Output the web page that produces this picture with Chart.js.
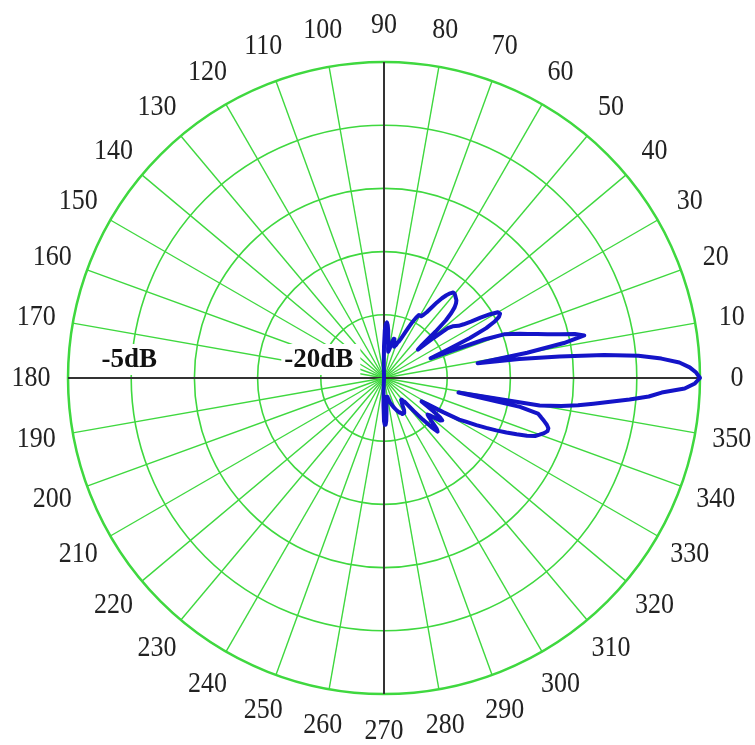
<!DOCTYPE html>
<html>
<head>
<meta charset="utf-8">
<script src="https://cdn.jsdelivr.net/npm/chart.js@4.4.1/dist/chart.umd.min.js"></script>
<style>
  html, body { margin: 0; padding: 0; background: #fff; }
  #wrap { width: 755px; height: 745px; }
</style>
</head>
<body>
<div id="wrap"><canvas id="polar"></canvas></div>
<script>
// antenna gain in dB, one value per degree, angle 0..359 counter-clockwise from the right
const gainDb = [
  0, -0.3, -0.8, -1.6, -3.0, -4.8, -7.5, -11, -14.2, -17.5,
  -13.5, -10.5, -8.8, -9.5, -10.7, -11.6, -12.4, -13.1, -13.7, -14.3,
  -14.9, -16.5, -19.5, -21, -19.5, -17.5, -16, -15.2, -14.7, -14.5,
  -14.6, -15.2, -16, -16.8, -17.4, -17.8, -18, -18.2, -18.6, -20,
  -21.5, -21, -19.5, -18.3, -17.6, -17.1, -16.8, -16.6, -16.5, -16.4,
  -16.3, -16.3, -16.5, -16.8, -17.2, -17.7, -18.3, -18.8, -19.1, -19.3,
  -19.3, -19.3, -19.6, -20, -20.5, -21, -21.4, -21.7, -21.9, -22,
  -22.2, -22.3, -22.4, -22.3, -22.1, -21.8, -21.8, -22, -22.3, -22.6,
  -22.8, -22.9, -22.7, -22.3, -21.8, -21.2, -20.8, -20.6, -20.7, -21.2,
  -22.5, -24, -25, -25, -25, -25, -25, -25, -25, -25,
  -25, -25, -25, -25, -25, -25, -25, -25, -25, -25,
  -25, -25, -25, -25, -25, -25, -25, -25, -25, -25,
  -25, -25, -25, -25, -25, -25, -25, -25, -25, -25,
  -25, -25, -25, -25, -25, -25, -25, -25, -25, -25,
  -25, -25, -25, -25, -25, -25, -25, -25, -25, -25,
  -25, -25, -25, -25, -25, -25, -25, -25, -25, -25,
  -25, -25, -25, -25, -25, -25, -25, -25, -25, -25,
  -25, -25, -25, -25, -25, -25, -25, -25, -25, -25,
  -25, -25, -25, -25, -25, -25, -25, -25, -25, -25,
  -25, -25, -25, -25, -25, -25, -25, -25, -25, -25,
  -25, -25, -25, -25, -25, -25, -25, -25, -25, -25,
  -25, -25, -25, -25, -25, -25, -25, -25, -25, -25,
  -25, -25, -25, -25, -25, -25, -25, -25, -25, -25,
  -25, -25, -25, -25, -25, -25, -25, -25, -25, -25,
  -25, -25, -25, -25, -25, -25, -25, -25, -25, -25,
  -25, -25, -25, -25, -25, -25, -25, -25, -25, -25,
  -25, -25, -25, -25, -25, -25, -25, -25, -24, -22.8,
  -21.6, -21.3, -21.3, -21.6, -22.2, -22.8, -23.2, -23.4, -23.5, -23.5,
  -23.5, -23.4, -23.3, -23.1, -23, -22.9, -22.8, -22.7, -22.6, -22.5,
  -22.4, -22.3, -22.2, -22.1, -22, -22, -21.9, -21.8, -21.8, -21.8,
  -21.8, -21.9, -22, -22.2, -22.4, -22.5, -22.6, -22.7, -22.8, -22.8,
  -22.6, -22.5, -21.5, -20.5, -19.6, -19, -19.2, -19.6, -20, -20.3,
  -20.5, -20.3, -19.8, -19.4, -19.3, -19.6, -20.3, -21, -21.5, -21,
  -19.6, -18.2, -17.6, -16.8, -16, -15.2, -14.4, -13.6, -12.8, -12.2,
  -11.9, -11.6, -11.4, -11.4, -11.6, -11.9, -12.2, -12.5, -14, -19,
  -12.5, -10.8, -9.5, -8.3, -7, -5.5, -4, -3.0, -1.2, -0.4
];
const angleTicks = [0, 10, 20, 30, 40, 50, 60, 70, 80, 90, 100, 110, 120, 130, 140, 150, 160, 170,
  180, 190, 200, 210, 220, 230, 240, 250, 260, 270, 280, 290, 300, 310, 320, 330, 340, 350];
const ringTicks = [-25, -20, -15, -10, -5, 0];
const ringLabels = [[-5, '-5dB'], [-20, '-20dB']];

const green = '#3fd83f';
const axisColor = '#333333';

// radar goes clockwise from the start angle, so index i is angle (360 - i)
const labels = gainDb.map((_, i) => (360 - i) % 360);
const values = labels.map(a => gainDb[a]);
const indexOf = a => (360 - a) % 360;

const polarText = {
  id: 'polarText',
  beforeDatasetsDraw(chart) {
    const s = chart.scales.r;
    const ctx = chart.ctx;
    ctx.save();

    ctx.font = 'bold 27px "Liberation Serif"';
    ctx.textAlign = 'center';
    ctx.textBaseline = 'alphabetic';
    ringLabels.forEach(([v, txt]) => {
      const p = s.getPointPosition(indexOf(180), s.getDistanceFromCenterForValue(v));
      const w = ctx.measureText(txt).width;
      ctx.fillStyle = '#fff';
      ctx.fillRect(p.x - w / 2 - 5, s.yCenter - 34, w + 10, 31);
      ctx.fillStyle = '#111';
      ctx.fillText(txt, p.x - 2, s.yCenter - 11);
    });

    // angle labels, drawn a little taller than wide like the original
    ctx.font = '26px "Liberation Serif"';
    ctx.textBaseline = 'middle';
    ctx.fillStyle = '#222';
    angleTicks.forEach(a => {
      const p = s.getPointPosition(indexOf(a), s.drawingArea + 37);
      ctx.save();
      ctx.translate(p.x, p.y);
      ctx.scale(1, 1.15);
      ctx.fillText(String(a), 0, 0);
      ctx.restore();
    });
    ctx.restore();
  }
};

new Chart(document.getElementById('polar'), {
  type: 'radar',
  data: {
    labels: labels,
    datasets: [{
      data: values,
      borderColor: '#1414c8',
      backgroundColor: 'transparent',
      borderWidth: 4,
      borderJoinStyle: 'round',
      pointRadius: 0,
      pointHoverRadius: 0,
      fill: false,
      tension: 0
    }]
  },
  options: {
    responsive: true,
    maintainAspectRatio: false,
    animation: false,
    events: [],
    layout: { padding: { left: 68, right: 55, top: 62, bottom: 51 } },
    plugins: { legend: { display: false }, tooltip: { enabled: false } },
    scales: {
      r: {
        min: ringTicks[0],
        max: ringTicks[ringTicks.length - 1],
        startAngle: 90,
        ticks: { display: false, stepSize: 5 },
        pointLabels: { display: false },
        grid: {
          circular: true,
          color: green,
          lineWidth: c => (c.tick && c.tick.value === 0 ? 2.5 : 1.6)
        },
        angleLines: {
          color: c => (Number(c.label) % 90 === 0 ? axisColor : green),
          lineWidth: c => {
            const a = Number(c.label);
            if (a % 90 === 0) return 2;
            return a % 10 === 0 ? 1.4 : 0;
          }
        }
      }
    }
  },
  plugins: [polarText]
});
</script>
</body>
</html>
